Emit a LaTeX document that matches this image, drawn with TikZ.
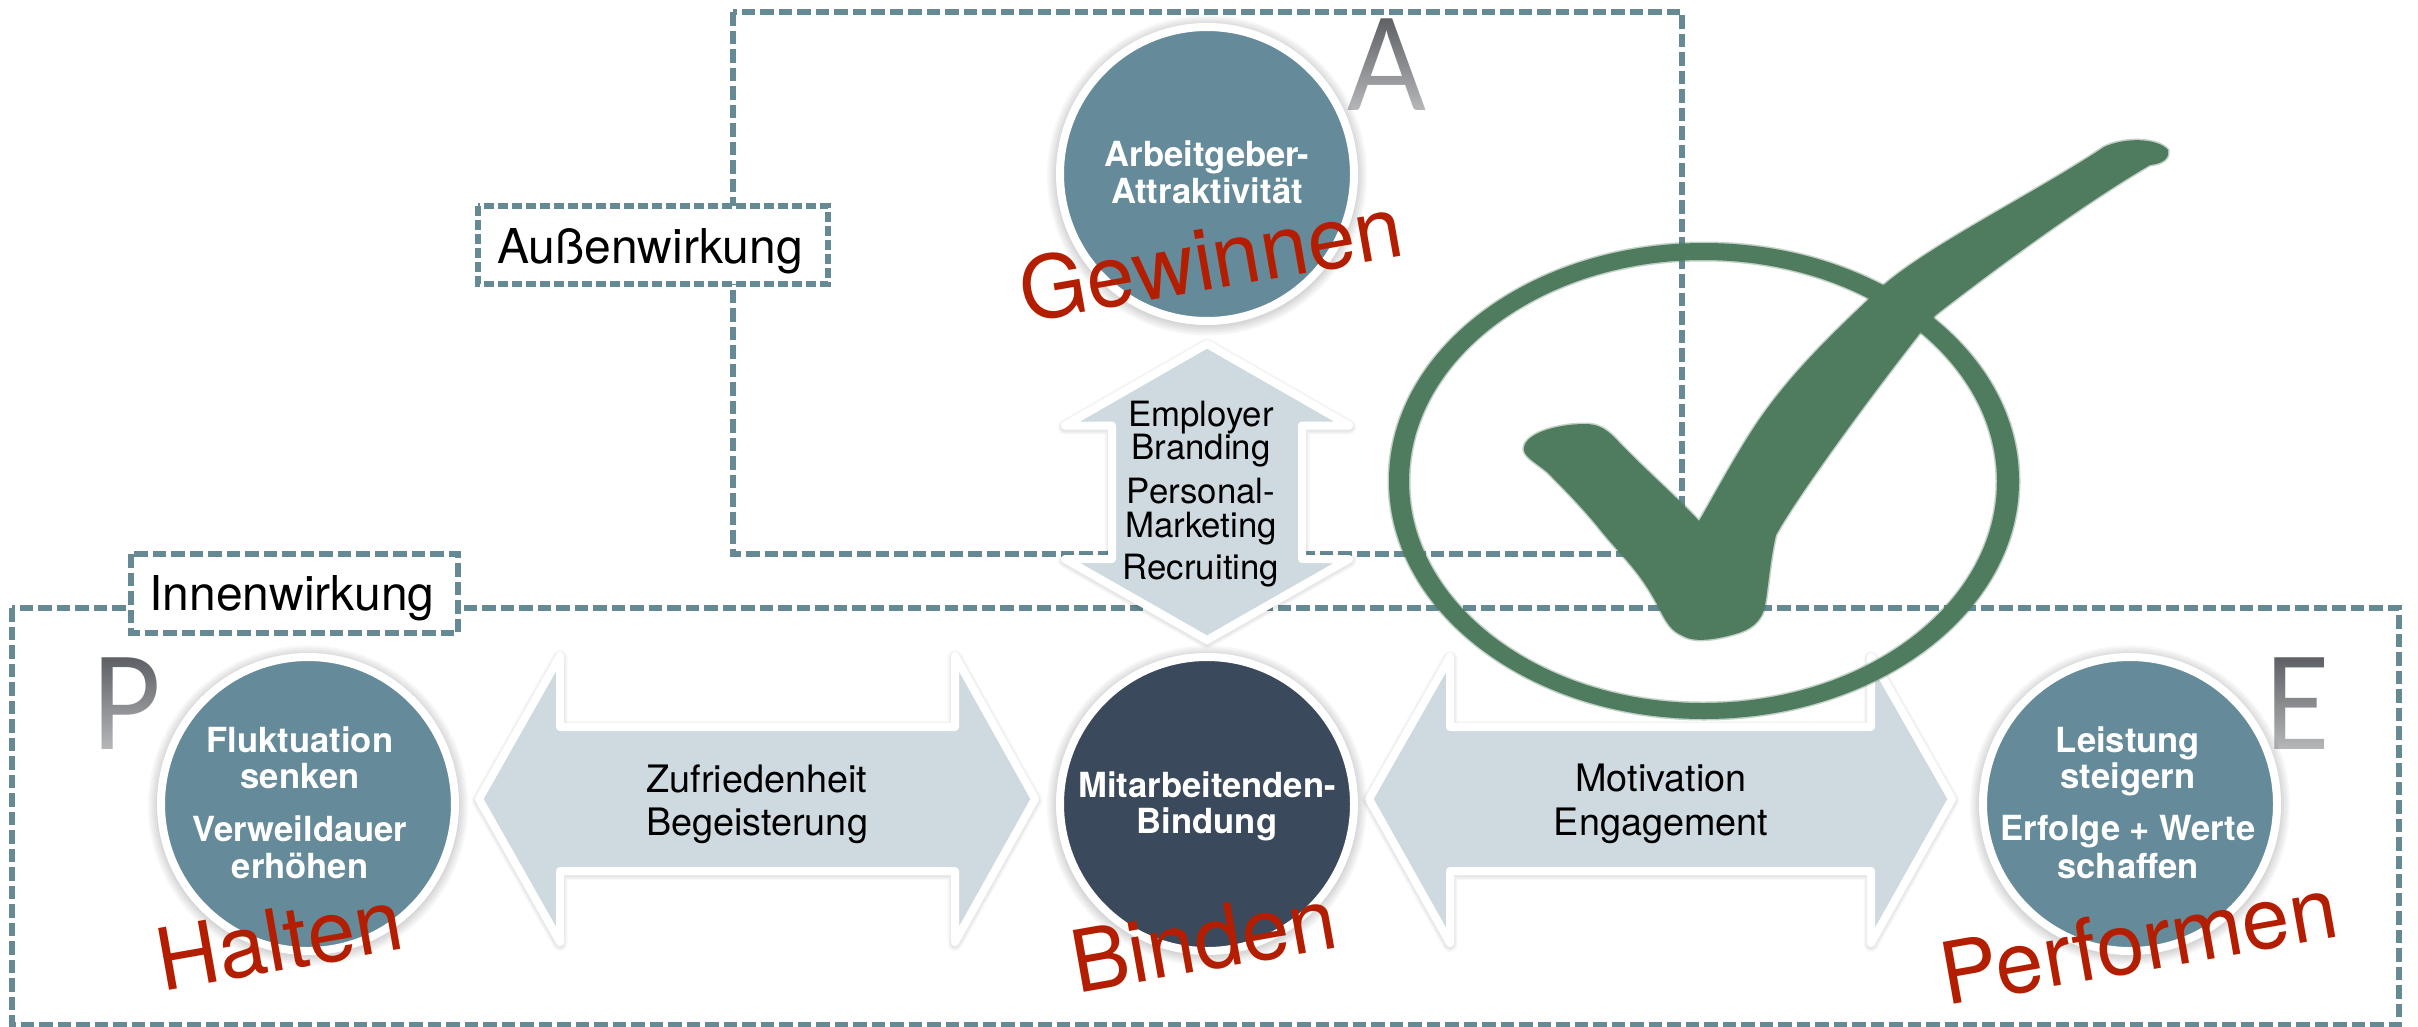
\documentclass[tikz,border=0pt]{standalone}
\usepackage{fontspec}
\usepackage{graphicx}
\setmainfont{TeX Gyre Heros}
\newfontfamily\letterfont{Lato}
\usetikzlibrary{fadings}
\definecolor{teal1}{HTML}{658A93}
\definecolor{disc}{HTML}{658B9A}
\definecolor{discdark}{HTML}{3B495C}
\definecolor{arrowfill}{HTML}{CEDADF}
\definecolor{redword}{HTML}{B41E00}
\definecolor{tick}{HTML}{4F7C5E}
\definecolor{lettergray}{HTML}{5A5D62}
\tikzfading[name=letterfade, top color=transparent!100, bottom color=transparent!42]
\tikzset{
  dashframe/.style={draw=teal1, line width=5.2pt, dash pattern=on 13.5pt off 5pt},
  labelbox/.style={dashframe, fill=white},
  labelboxfine/.style={draw=teal1, line width=5.2pt, dash pattern=on 10pt off 4pt, fill=white},
  discnode/.style={circle, minimum size=294pt, inner sep=0pt, draw=white, line width=8pt, fill=disc},
  bigarrow/.style={fill=arrowfill, draw=white, line width=8pt, line join=round},
  disctext/.style={anchor=base, inner sep=0pt, text=white, font=\fontsize{34.6}{40}\selectfont\bfseries},
  arrowtext/.style={anchor=base, inner sep=0pt, text=black, font=\fontsize{37.8}{44}\selectfont},
  uptext/.style={anchor=base, inner sep=0pt, text=black, font=\fontsize{34.8}{40}\selectfont},
  boxtext/.style={anchor=base, inner sep=0pt, text=black, font=\fontsize{48}{56}\selectfont},
  redtext/.style={anchor=base, inner sep=0pt, text=redword, rotate=10, font=\fontsize{86}{100}\selectfont},
  lettertext/.style={anchor=base, inner sep=0pt, text=lettergray, font=\fontsize{128}{150}\selectfont\letterfont},
  letterveil/.style={fill=white, path fading=letterfade, fit fading=true},
}
\newcommand{\softglow}[3]{% x, y, radius
  \foreach \dr in {0,2,4,6,8,10}{
    \fill[black, opacity=.03] (#1,#2+1.5) circle[radius=#3+\dr];
  }
}
\newcommand{\softedge}[1]{% soft shadow along an arrow outline
  \foreach \lw in {9,11,13,15}{
    \draw[black, opacity=.025, line width=\lw pt, line join=round, yshift=-1.5pt] #1;
  }
}
\begin{document}
\begin{tikzpicture}[x=1pt,y=-1pt]
\useasboundingbox (0,0) rectangle (2418,1026);
\fill[white] (0,0) rectangle (2418,1026);

% dashed frames
\draw[dashframe] (733,12) rectangle (1682,554);
\draw[dashframe] (12,608) rectangle (2399,1025);
\draw[labelboxfine] (478,206) rectangle (828,284);
\draw[labelbox] (131,554) rectangle (458,633);
\node[boxtext] (aussen) at (650,263) {Außenwirkung};
\node[boxtext] (innen) at (292,610) {Innenwirkung};

% double arrows
\def\arrowup{(1207,344) -- (1349,425.5) -- (1302,425.5) -- (1302,559) -- (1349,559) -- (1207,640)
  -- (1065,559) -- (1112,559) -- (1112,425.5) -- (1065,425.5) -- cycle}
\def\arrowleft{(479,799) -- (560,656) -- (560,727) -- (955,727) -- (955,656) -- (1035,799)
  -- (955,942) -- (955,871) -- (560,871) -- (560,942) -- cycle}
\def\arrowright{(1369,799) -- (1450,657) -- (1450,727) -- (1871,727) -- (1871,657) -- (1952,799)
  -- (1871,943) -- (1871,871) -- (1450,871) -- (1450,943) -- cycle}
\softedge{\arrowup}
\softedge{\arrowleft}
\softedge{\arrowright}
\path[bigarrow] \arrowup;
\path[bigarrow] \arrowleft;
\path[bigarrow] \arrowright;

\node[uptext] (u1) at (1201,426) {Employer};
\node[uptext] (u2) at (1201,459) {Branding};
\node[uptext] (u3) at (1201,503) {Personal-};
\node[uptext] (u4) at (1201,537) {Marketing};
\node[uptext] (u5) at (1201,579) {Recruiting};
\node[arrowtext] (l1) at (757,792) {Zufriedenheit};
\node[arrowtext] (l2) at (757,835) {Begeisterung};
\node[arrowtext] (r1) at (1661,791) {Motivation};
\node[arrowtext] (r2) at (1661,835) {Engagement};

% gradient letters
\node[lettertext] (la) at (1387,110) {\scalebox{.91}[1]{A}};
\path[letterveil] (1340,14) rectangle (1436,114);
\node[lettertext] (lp) at (126.5,749) {\scalebox{.9}[1]{P}};
\path[letterveil] (92,654) rectangle (162,753);
\node[lettertext] (le) at (2297,749) {\scalebox{.88}[1]{E}};
\path[letterveil] (2262,654) rectangle (2326,753);

% discs
\softglow{1207}{174}{150}
\softglow{308}{804}{150}
\softglow{1207}{804}{150}
\softglow{2130}{804}{150}
\node[discnode] (da) at (1207,174) {};
\node[discnode] (dp) at (308,804) {};
\node[discnode, fill=discdark] (db) at (1207,804) {};
\node[discnode] (de) at (2130,804) {};

\node[disctext] (a1) at (1207,166) {Arbeitgeber-};
\node[disctext] (a2) at (1207,203) {Attraktivität};
\node[disctext] (p1) at (300,752) {Fluktuation};
\node[disctext] (p2) at (300,788) {senken};
\node[disctext] (p3) at (300,841) {Verweildauer};
\node[disctext] (p4) at (300,878) {erhöhen};
\node[disctext] (b1) at (1207,797) {Mitarbeitenden-};
\node[disctext] (b2) at (1207,833) {Bindung};
\node[disctext] (e1) at (2128,752) {Leistung};
\node[disctext] (e2) at (2128,788) {steigern};
\node[disctext] (e3) at (2128,840) {Erfolge + Werte};
\node[disctext] (e4) at (2128,878) {schaffen};

% red words
\node[redtext] (w1) at (1216,289) {Gewinnen};
\node[redtext] (w2) at (284.5,970) {Halten};
\node[redtext] (w3) at (1209,970) {Binden};
\node[redtext] (w4) at (2144,971) {Performen};

% check mark
\def\tickpath{(2104,147) .. controls (2125,137) and (2158,138) .. (2168,150)
  .. controls (2170,160) and (2160,164) .. (2150,165)
  .. controls (2085,203) and (2000,265) .. (1937,314)
  .. controls (1925,325) and (1920,333) .. (1917,337)
  .. controls (1860,410) and (1795,500) .. (1776,535)
  .. controls (1770,560) and (1768,590) .. (1765,605)
  .. controls (1762,622) and (1750,630) .. (1735,634)
  .. controls (1715,640) and (1695,642) .. (1685,637)
  .. controls (1675,632) and (1670,630) .. (1660,610)
  .. controls (1640,570) and (1620,555) .. (1598,527)
  .. controls (1580,505) and (1560,485) .. (1547,472)
  .. controls (1535,462) and (1522,456) .. (1524,447)
  .. controls (1527,432) and (1560,424) .. (1585,424)
  .. controls (1597,424) and (1605,428) .. (1615,438)
  .. controls (1640,465) and (1680,500) .. (1699,521)
  .. controls (1706,510) and (1735,455) .. (1759,420)
  .. controls (1790,375) and (1830,335) .. (1885,284)
  .. controls (1930,245) and (2040,190) .. (2104,147) -- cycle}
\def\ringpath{(1704,481) ellipse[x radius=315, y radius=238] (1703,481.5) ellipse[x radius=294, y radius=221.5]}
\draw[tick, opacity=.35, line width=3pt] \ringpath;
\draw[tick, opacity=.35, line width=3pt] \tickpath;
\fill[tick, even odd rule] \ringpath;
\fill[tick] \tickpath;
\end{tikzpicture}
\end{document}
